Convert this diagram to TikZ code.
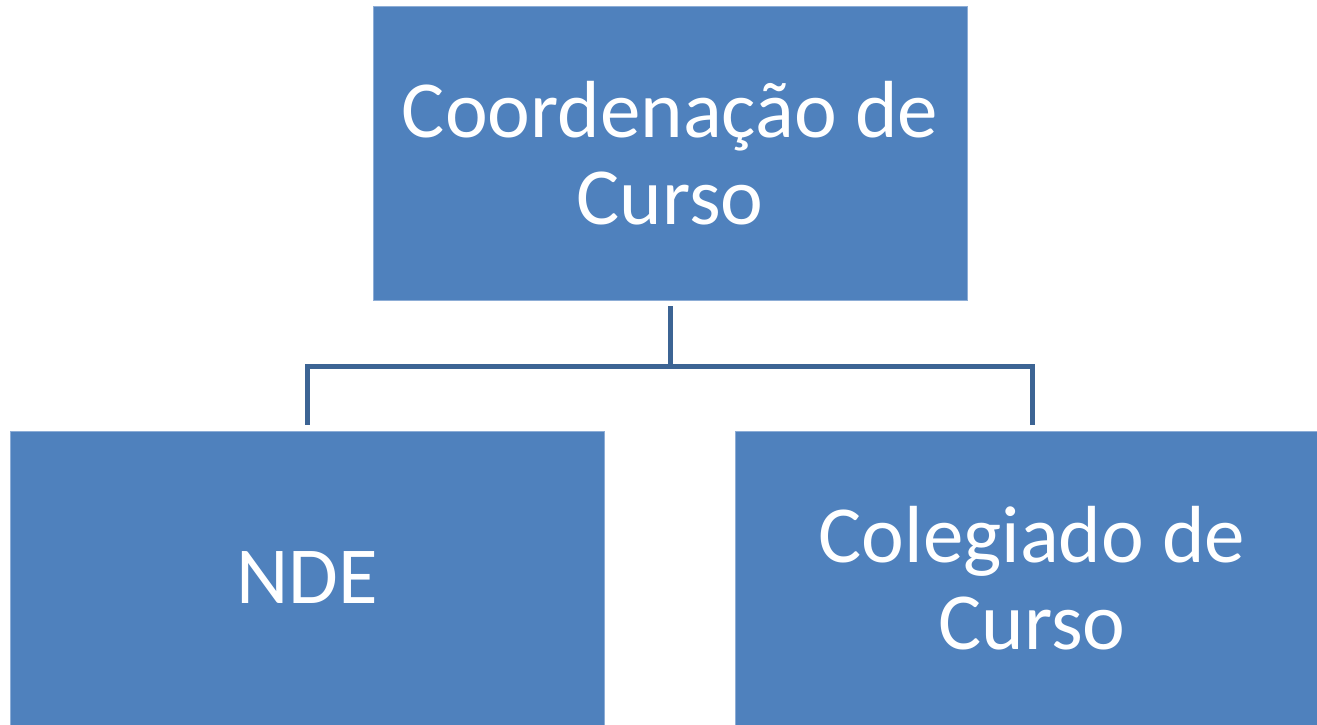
\documentclass[tikz,border=0pt]{standalone}
\usepackage{fontspec}
\setmainfont{Carlito}
\usepackage{tikz}
\usetikzlibrary{shapes,arrows}
\definecolor{boxColor}{HTML}{4F81BD}
\definecolor{edgeColor}{HTML}{8DADD6}
\definecolor{linkColor}{HTML}{3C6494}
\tikzstyle{orgbox}=[rectangle, minimum width=594pt, minimum height=294pt, inner sep=0pt, align=center, draw=edgeColor, line width=0.8pt, fill=boxColor, text=white, font=\fontsize{81}{87}\selectfont]
\tikzstyle{link} = [draw=linkColor, line width=5pt, shorten <=6pt, shorten >=6pt]

\begin{document}
\begin{tikzpicture} [node distance=425pt]
			\useasboundingbox (0,0) rectangle (1317pt,-724pt);
			\node (coordenacao) [orgbox] at (670pt,-153pt) {Coordenação de\\Curso};
			
			\node (nde) [orgbox, below of=coordenacao, xshift=-363pt] {NDE};
			\node (colegiado) [orgbox, below of=coordenacao, xshift=362pt] {Colegiado de\\Curso};
			
			\draw [link] (coordenacao.south) -- ++(0,-66pt) -| (nde.north);
			\draw [link] (coordenacao.south) -- ++(0,-66pt) -| (colegiado.north);
			
\end{tikzpicture}
\end{document}
